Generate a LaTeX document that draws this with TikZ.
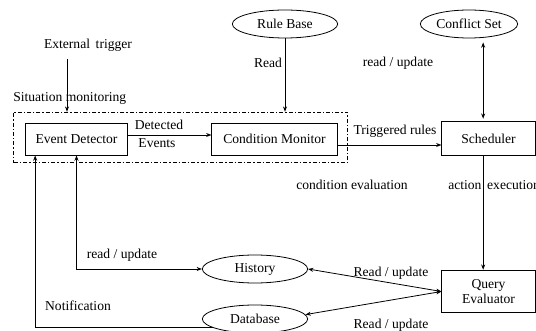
\documentclass[tikz,border=0pt]{standalone}
\usepackage{fontspec}
\setmainfont{Liberation Serif}
\usetikzlibrary{arrows.meta,shapes.geometric}

\tikzset{
  unit/.style={draw,line width=0.6pt,minimum height=24pt,inner sep=0pt},
  store/.style={draw,ellipse,line width=0.6pt,minimum width=79pt,minimum height=21pt,inner sep=0pt},
  frame/.style={draw,line width=0.6pt,dash pattern=on 3pt off 1.5pt on 1pt off 1.5pt,inner sep=0pt},
  link/.style={line width=0.6pt,-{Stealth[length=4pt,width=3pt]}},
  duplex/.style={line width=0.6pt,{Stealth[length=4pt,width=3pt]}-{Stealth[length=4pt,width=3pt]}},
  note/.style={inner sep=0pt}
}

\begin{document}
\begin{tikzpicture}[x=0.75pt,y=-0.75pt,font=\fontsize{10.2}{12}\selectfont]
  \useasboundingbox (0,0) rectangle (536,331);
  % situation monitoring part
  \node[frame,minimum width=250pt,minimum height=38pt] (sm) at (180.5,137.5) {};
  \node[note,anchor=west] (smlbl) at (13,98) {Situation monitoring};
  \node[unit,minimum width=77pt] (ed) at (76.5,139) {Event Detector};
  \node[unit,minimum width=94pt] (cm) at (274.5,139) {Condition Monitor};
  % rule execution part
  \node[unit,minimum width=70pt,minimum height=25pt] (sch) at (488.5,138.5) {Scheduler};
  \node[unit,minimum width=70pt,minimum height=32pt,align=center] (qe) at (488.5,291.5) {Query\\[-1pt]Evaluator};
  % stores
  \node[store] (rb) at (285,24) {Rule Base};
  \node[store,minimum width=73pt] (cs) at (469,24) {Conflict Set};
  \node[store] (hist) at (255,269) {History};
  \node[store] (db) at (255,319) {Database};
  % labels
  \node[note] (ext) at (88,45) {External\, trigger};
  \node[note] (det) at (159,125) {Detected};
  \node[note] (evt) at (157,143) {Events};
  \node[note] (rd) at (268,63) {Read};
  \node[note] (rdup) at (398,63) {read / update};
  \node[note] (trig) at (395,131) {Triggered rules};
  \node[note] (ceval) at (352,185) {condition evaluation};
  \node[note,anchor=west] (aexec) at (448,185) {action\, execution};
  \node[note] (hup) at (122,255) {read / update};
  \node[note] (notif) at (78,306) {Notification};
  \node[note] (qup) at (391,273) {Read / update};
  \node[note] (qdown) at (391,325) {Read / update};
  % connectors
  \coordinate (extsrc) at (67,59);
  \draw[link] (extsrc) -- (extsrc |- sm.north);
  \draw[link] ([yshift=3pt]ed.east) -- ([yshift=3pt]ed.east -| cm.west);
  \draw[link] (rb.south) -- (rb.south |- sm.north);
  \draw[link] ([yshift=-4.5pt]cm.east) -- ([yshift=-4.5pt]cm.east -| sch.west);
  \draw[duplex,shorten <=2pt,shorten >=3pt] ([xshift=-4pt]sch.north) -- ([xshift=-4pt]sch.north |- cs.south);
  \draw[link] ([xshift=-4pt]sch.south) -- ([xshift=-4pt]qe.north);
  \draw[duplex] (ed.south) |- (hist.west);
  \draw[link] (db.192) -| ([xshift=-31pt]ed.south);
  \draw[duplex] (qe.west) -- (hist.east);
  \draw[duplex] (qe.west) -- (db.5);
\end{tikzpicture}
\end{document}
